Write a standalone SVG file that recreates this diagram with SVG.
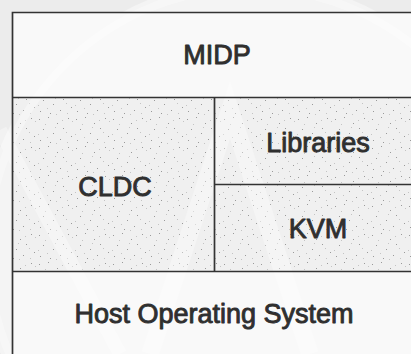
<svg xmlns="http://www.w3.org/2000/svg" width="411" height="354" viewBox="0 0 411 354">
  <defs>
    <style>
      .rule { stroke: #333333; stroke-width: 1.7; fill: none; }
      .label { font-family: "Liberation Sans", Arial, sans-serif; font-size: 27px; fill: #2f2f2f; stroke: #2f2f2f; stroke-width: 0.9; stroke-linejoin: round; text-anchor: middle; }
      .plain { fill: #f9f9f9; }
      .dotted { fill: url(#stipple); }
      .glow { fill: none; stroke: #ffffff; }
    </style>
    <!-- sparse grey speckle used for the middle band -->
    <pattern id="stipple" width="37" height="29" patternUnits="userSpaceOnUse">
      <rect width="37" height="29" fill="#f0f0f0"/>
      <g fill="#9a9a9a">
        <rect x="2" y="3" width="1" height="1"/>
        <rect x="11" y="1" width="1" height="1"/>
        <rect x="20" y="7" width="1" height="1"/>
        <rect x="31" y="2" width="1" height="1"/>
        <rect x="6" y="13" width="1" height="1"/>
        <rect x="16" y="17" width="1" height="1"/>
        <rect x="26" y="12" width="1" height="1"/>
        <rect x="34" y="20" width="1" height="1"/>
        <rect x="3" y="24" width="1" height="1"/>
        <rect x="13" y="26" width="1" height="1"/>
        <rect x="23" y="23" width="1" height="1"/>
      </g>
      <g fill="#c4c4c4">
        <rect x="8" y="8" width="1" height="1"/>
        <rect x="18" y="11" width="1" height="1"/>
        <rect x="29" y="16" width="1" height="1"/>
        <rect x="1" y="18" width="1" height="1"/>
        <rect x="19" y="27" width="1" height="1"/>
        <rect x="35" y="5" width="1" height="1"/>
        <rect x="10" y="21" width="1" height="1"/>
        <rect x="30" y="26" width="1" height="1"/>
        <rect x="25" y="4" width="1" height="1"/>
      </g>
    </pattern>
  </defs>

  <!-- page background -->
  <rect width="411" height="354" fill="#ececec"/>
  <circle cx="250" cy="250" r="270" fill="#f4f4f4"/>

  <!-- layer fills -->
  <rect class="plain" x="12" y="12" width="399" height="86"/>
  <rect class="dotted" x="12" y="98" width="399" height="173"/>
  <rect class="plain" x="12" y="271" width="399" height="83"/>

  <!-- faint light sweeps across the page -->
  <g opacity="0.35">
    <circle class="glow" cx="250" cy="250" r="262" stroke-width="8"/>
    <path class="glow" d="M150 354 L230 110 L310 354" stroke-width="18"/>
    <path class="glow" d="M0 130 L120 354" stroke-width="14"/>
  </g>

  <g id="midp">
    <text class="label" x="217" y="64">MIDP</text>
  </g>
  <g id="cldc">
    <text class="label" x="115" y="196">CLDC</text>
  </g>
  <g id="libraries">
    <text class="label" x="318" y="152">Libraries</text>
  </g>
  <g id="kvm">
    <text class="label" x="318" y="238">KVM</text>
  </g>
  <g id="host-os">
    <text class="label" x="214" y="323">Host Operating System</text>
  </g>

  <!-- layer boundaries -->
  <g id="connectors">
    <path class="rule" d="M12.5 354 V12.5 H411"/>
    <path class="rule" d="M12.5 97.5 H411"/>
    <path class="rule" d="M12.5 271.5 H411"/>
    <path class="rule" d="M214.5 97.5 V271.5"/>
    <path class="rule" d="M214.5 184.5 H411"/>
  </g>
</svg>
